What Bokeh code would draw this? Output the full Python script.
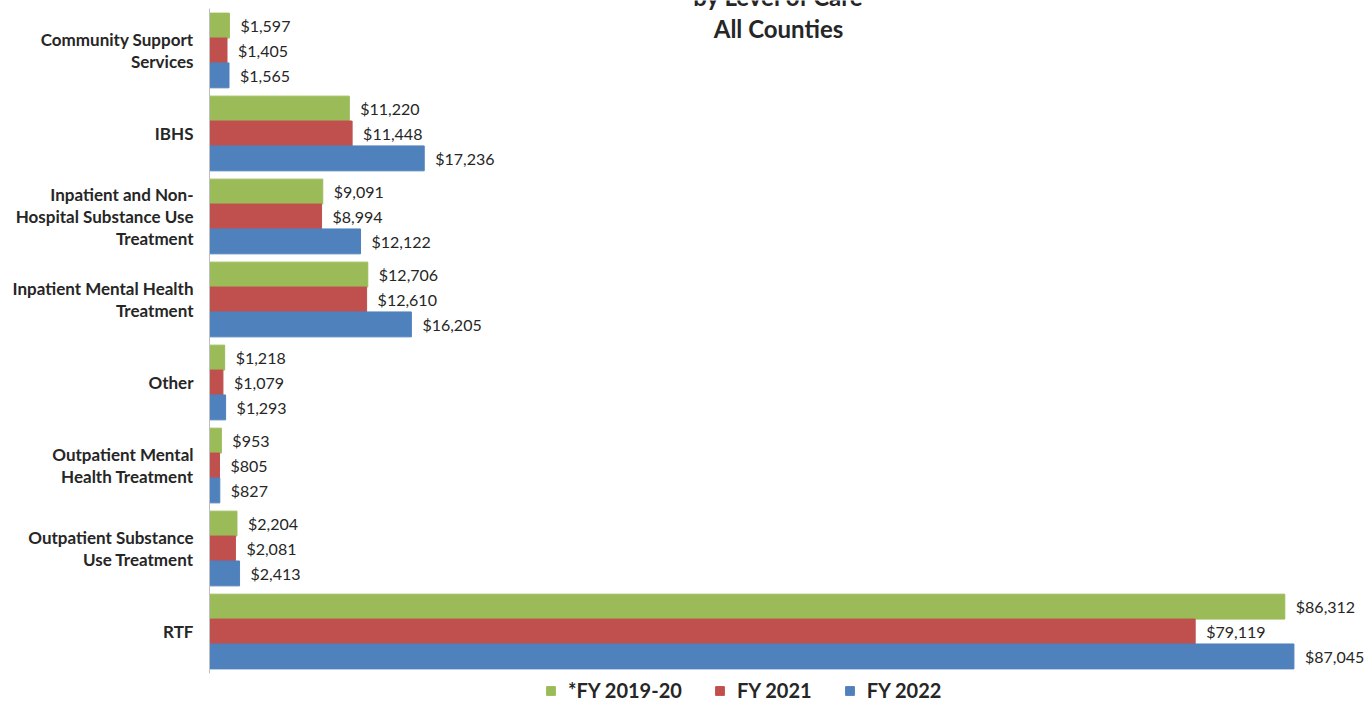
from bokeh.plotting import figure
from bokeh.models import ColumnDataSource, Range1d, Label, Legend, LegendItem, FixedTicker
from bokeh.transform import dodge
from bokeh.core.properties import value
from bokeh.embed import file_html
from bokeh.resources import INLINE

categories = ["Community Support\nServices", "IBHS",
              "Inpatient and Non-\nHospital Substance Use\nTreatment",
              "Inpatient Mental Health\nTreatment", "Other",
              "Outpatient Mental\nHealth Treatment",
              "Outpatient Substance\nUse Treatment", "RTF"]
series_names = ["*FY 2019-20", "FY 2021", "FY 2022"]
fy2019_20 = [1597, 11220, 9091, 12706, 1218, 953, 2204, 86312]
fy2021 = [1405, 11448, 8994, 12610, 1079, 805, 2081, 79119]
fy2022 = [1565, 17236, 12122, 16205, 1293, 827, 2413, 87045]
colors = ["#9BBB59", "#C0504D", "#4F81BD"]
title_lines = ["by Level of Care", "All Counties"]

FONT = "Lato"
TXT = "#262626"

n = len(categories)
ypos = [n - 1 - i for i in range(n)]          # first category at the top

p = figure(width=1366, height=702, output_backend="svg", toolbar_location=None,
           y_range=Range1d(-0.855, n - 1 + 0.602),
           x_range=Range1d(0, 92870),
           min_border_left=209, min_border_right=0, min_border_top=0, min_border_bottom=0)
p.outline_line_color = None
p.xgrid.visible = False
p.ygrid.visible = False
p.xaxis.visible = False
p.background_fill_color = "white"

yax = p.yaxis[0]
yax.ticker = FixedTicker(ticks=ypos)
yax.major_label_overrides = {y: c for y, c in zip(ypos, categories)}
yax.bounds = (-0.5, n - 0.5)
yax.axis_line_color = "#BFBFBF"
yax.major_tick_line_color = None
yax.minor_tick_line_color = None
yax.major_tick_out = 0
yax.major_label_standoff = 16
yax.major_label_text_font = FONT
yax.major_label_text_font_style = "bold"
yax.major_label_text_font_size = "17px"
yax.major_label_text_color = TXT
yax.major_label_text_line_height = 1.05

offsets = [0.3, 0.0, -0.3]
renderers = []
for vals, off, col in zip([fy2019_20, fy2021, fy2022], offsets, colors):
    src = ColumnDataSource(dict(y=ypos, cat=categories, v=vals,
                                lbl=["${:,}".format(v) for v in vals]))
    r = p.hbar(y=dodge("y", off), right="v", left=0, height=0.3,
               source=src, fill_color=col, line_color=col)
    p.text(x="v", y=dodge("y", off), text="lbl", source=src,
           x_offset=11, text_baseline="middle", text_align="left",
           text_font=value(FONT), text_font_size="16px", text_color=TXT)
    renderers.append(r)

legend = Legend(items=[LegendItem(label=s, renderers=[r]) for s, r in zip(series_names, renderers)],
                orientation="horizontal", location=(336, 0),
                glyph_width=11, glyph_height=11, label_standoff=12, spacing=32,
                label_height=18, padding=0, margin=0, border_line_color=None,
                background_fill_alpha=0,
                label_text_font=FONT, label_text_font_style="bold",
                label_text_font_size="20px", label_text_color=TXT)
p.add_layout(legend, "center")

p.add_layout(Label(x=569, y=706, x_units="screen", y_units="screen", text=title_lines[0],
                   text_align="center", text_baseline="alphabetic", text_font=FONT,
                   text_font_style="bold", text_font_size="24px", text_color=TXT))
p.add_layout(Label(x=569, y=674, x_units="screen", y_units="screen", text=title_lines[1],
                   text_align="center", text_baseline="alphabetic", text_font=FONT,
                   text_font_style="bold", text_font_size="24px", text_color=TXT))

open("out.html", "w").write(file_html(p, INLINE))
